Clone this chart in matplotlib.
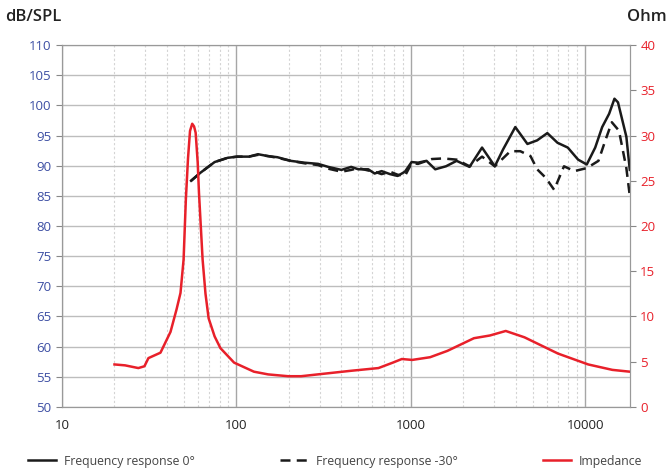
import matplotlib
matplotlib.use('Agg')
import matplotlib.pyplot as plt
from matplotlib.ticker import FixedLocator, NullFormatter, LogLocator
import numpy as np

plt.rcParams['font.family'] = ['Open Sans', 'DejaVu Sans']

# frequency response 0 deg (Hz, dB)
f_0 = [55, 62, 75, 89, 101, 118, 133, 151, 172, 205, 245, 294, 336, 400, 455, 500,
       570, 620, 680, 760, 840, 925, 1010, 1100, 1230, 1380, 1590, 1830, 2170, 2560,
       3030, 3380, 3970, 4660, 5300, 6060, 6930, 7940, 9100, 10200, 11400, 12500,
       13700, 14700, 15400, 17200, 18000]
spl_0 = [87.5, 88.8, 90.6, 91.3, 91.5, 91.5, 91.9, 91.6, 91.4, 90.8, 90.5, 90.3, 89.8,
         89.3, 89.8, 89.4, 89.4, 88.7, 89.1, 88.6, 88.3, 89.0, 90.6, 90.5, 90.8, 89.4,
         89.9, 90.8, 89.8, 93.0, 89.9, 92.7, 96.4, 93.6, 94.2, 95.4, 93.8, 93.0, 91.0,
         90.2, 93.0, 96.4, 98.6, 101.1, 100.5, 94.8, 89.3]

# frequency response -30 deg (Hz, dB)
f_30 = [55, 62, 75, 89, 101, 118, 133, 151, 172, 205, 245, 294, 336, 400, 455, 500,
        570, 620, 680, 760, 840, 925, 1010, 1100, 1320, 1530, 1830, 2170, 2560, 3030,
        3720, 4240, 4850, 5300, 5930, 6630, 7550, 8660, 10200, 11900, 13000, 14200,
        15600, 17200, 18000]
spl_30 = [87.5, 88.8, 90.6, 91.3, 91.5, 91.5, 91.8, 91.6, 91.3, 90.8, 90.4, 90.1, 89.5,
          89.0, 89.3, 89.6, 89.2, 89.0, 88.6, 89.0, 88.5, 88.3, 90.4, 90.3, 91.1, 91.2,
          91.0, 89.9, 91.5, 89.9, 92.4, 92.4, 91.6, 89.4, 88.0, 86.0, 89.9, 89.1, 89.6,
          90.8, 94.1, 97.2, 95.8, 89.6, 85.0]

# impedance (Hz, Ohm)
f_imp = [20, 23, 27.4, 29.7, 31.3, 36.7, 41.9, 45.4, 47.8, 49.8, 51.3, 52.8, 54.2,
         55.8, 57.2, 58.4, 60, 61, 64, 66.5, 69.3, 75, 81, 97, 126, 152, 198, 235, 454,
         652, 788, 888, 1018, 1290, 1620, 2300, 2840, 3500, 4480, 6980, 10400, 14300,
         18000]
ohm = [4.7, 4.6, 4.3, 4.5, 5.4, 6.0, 8.3, 10.8, 12.6, 16.3, 22.9, 27.5, 30.5, 31.3, 31.0,
       30.3, 27.0, 23.7, 16.3, 12.5, 9.8, 7.8, 6.5, 4.9, 3.9, 3.6, 3.4, 3.4, 4.0, 4.3,
       4.9, 5.3, 5.2, 5.5, 6.2, 7.6, 7.9, 8.4, 7.7, 5.9, 4.7, 4.1, 3.9]

fig = plt.figure(figsize=(6.7, 4.74), dpi=100)
ax = fig.add_axes([0.0925, 0.1414, 0.8475, 0.7636])
ax2 = ax.twinx()

ax.set_xscale('log')
ax.set_xlim(10, 18000)
ax.set_ylim(50, 110)
ax2.set_ylim(0, 40)

ax.set_yticks(np.arange(50, 111, 5))
ax2.set_yticks(np.arange(0, 41, 5))
ax.xaxis.set_major_locator(FixedLocator([10, 100, 1000, 10000]))
ax.set_xticklabels(['10', '100', '1000', '10000'])
ax.xaxis.set_minor_locator(LogLocator(base=10, subs=np.arange(2, 10)))
ax.xaxis.set_minor_formatter(NullFormatter())

ax.grid(True, which='major', axis='y', color='#bdbdbd', lw=1)
ax.grid(True, which='major', axis='x', color='#a6a6a6', lw=1)
ax.grid(True, which='minor', axis='x', color='#d4d4d4', lw=0.8, ls=(0, (2, 2)))
ax.set_axisbelow(True)

blue = '#3c4ea3'
red = '#e8202a'
ax.tick_params(axis='y', colors='#888888', labelcolor=blue, labelsize=9.5, length=4)
ax2.tick_params(axis='y', colors='#888888', labelcolor=red, labelsize=9.5, length=4)
ax.tick_params(axis='x', which='both', length=0, labelsize=9.5, labelcolor='#222222', pad=9)
for a in (ax, ax2):
    for s in a.spines.values():
        s.set_color('#999999')

l1, = ax.plot(f_0, spl_0, color='#1a1a1a', lw=1.8, label='Frequency response 0°')
l2, = ax.plot(f_30, spl_30, color='#1a1a1a', lw=1.8, ls=(0, (4, 2.5)),
              label='Frequency response -30°')
l3, = ax2.plot(f_imp, ohm, color=red, lw=1.8, label='Impedance')

fig.text(0.008, 0.955, 'dB/SPL', fontsize=12, fontweight='semibold', color='#222222')
fig.text(0.995, 0.955, 'Ohm', fontsize=12, fontweight='semibold', color='#222222', ha='right')

fig.legend(handles=[l1, l2, l3], loc='lower center', ncol=3, frameon=False,
           bbox_to_anchor=(0.5, -0.01), fontsize=8.8, columnspacing=7.0,
           handlelength=2.3, handletextpad=0.6, labelcolor='#444444')

fig.savefig('out.png', dpi=100)
